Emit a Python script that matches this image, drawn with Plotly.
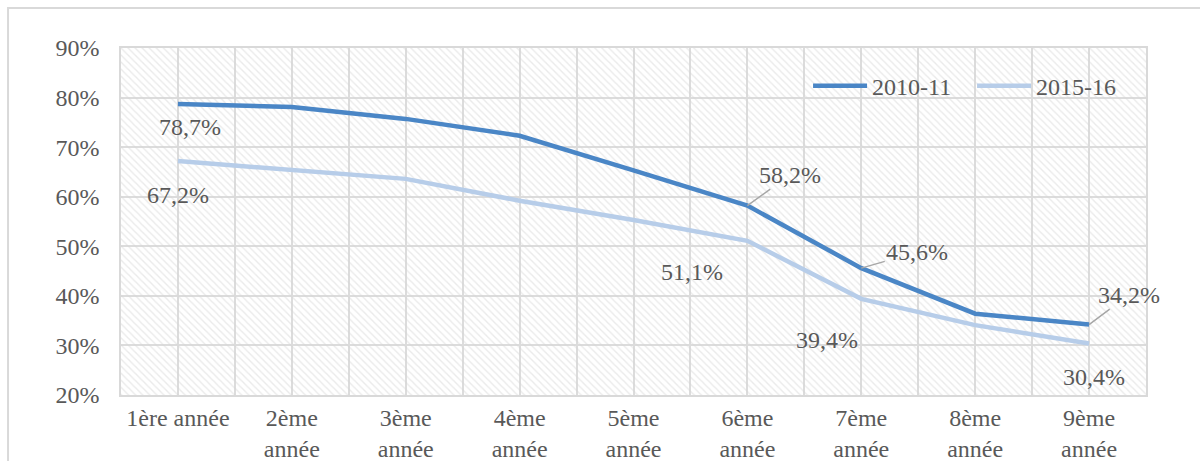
import plotly.graph_objects as go

# School years (categories) and tick labels
categories = ["1ère année", "2ème année", "3ème année", "4ème année", "5ème année",
              "6ème année", "7ème année", "8ème année", "9ème année"]
tick_labels = ["1ère année", "2ème<br>année", "3ème<br>année", "4ème<br>année", "5ème<br>année",
               "6ème<br>année", "7ème<br>année", "8ème<br>année", "9ème<br>année"]

# Rates (%) per cohort
rate_2010_11 = [78.7, 78.1, 75.7, 72.3, 65.3, 58.2, 45.6, 36.4, 34.2]
rate_2015_16 = [67.2, 65.4, 63.6, 59.2, 55.3, 51.1, 39.4, 34.1, 30.4]

y_ticks = [20, 30, 40, 50, 60, 70, 80, 90]
y_tick_labels = [f"{v}%" for v in y_ticks]

FONT = "'Liberation Serif', 'Times New Roman', 'DejaVu Serif', serif"
FS = 24
TXT = "#595959"
GRID = "#dcdcdc"

idx = list(range(len(categories)))
x_lo, x_hi = idx[0] - 0.5, idx[-1] + 0.5
y_lo, y_hi = y_ticks[0], y_ticks[-1]

fig = go.Figure()

# Hatched plot-area background
fig.add_trace(go.Scatter(
    x=[x_lo, x_hi, x_hi, x_lo, x_lo], y=[y_lo, y_lo, y_hi, y_hi, y_lo],
    mode="none", fill="toself", fillcolor="rgba(0,0,0,0)",
    fillpattern=dict(shape="\\", size=5, solidity=0.28,
                     fgcolor="#d6d6d6", bgcolor="rgba(0,0,0,0)"),
    showlegend=False, hoverinfo="skip"))

fig.add_trace(go.Scatter(x=idx, y=rate_2010_11, mode="lines", name="2010-11",
                         line=dict(color="#4a86c6", width=4.5)))
fig.add_trace(go.Scatter(x=idx, y=rate_2015_16, mode="lines", name="2015-16",
                         line=dict(color="#b7cde9", width=4.5)))


def fmt(v):
    return f"{v:.1f}".replace(".", ",") + "%"


# Data labels: (series, index, x offset px, y offset px, leader line)
labels = [
    (rate_2010_11, 0, 12, 23, False),
    (rate_2015_16, 0, 0, 34, False),
    (rate_2010_11, 5, 43, -31, True),
    (rate_2010_11, 6, 56, -16, True),
    (rate_2010_11, 8, 40, -30, True),
    (rate_2015_16, 5, -55, 31, False),
    (rate_2015_16, 6, -34, 41, False),
    (rate_2015_16, 8, 5, 34, False),
]
for series, i, dx, dy, leader in labels:
    if leader:
        fig.add_annotation(x=idx[i], y=series[i], text=fmt(series[i]),
                           showarrow=True, arrowhead=0, arrowwidth=1.5,
                           arrowcolor="#a6a6a6", ax=dx, ay=dy, standoff=0,
                           font=dict(family=FONT, size=FS, color=TXT))
    else:
        fig.add_annotation(x=idx[i], y=series[i], text=fmt(series[i]),
                           showarrow=False, xshift=dx, yshift=-dy,
                           font=dict(family=FONT, size=FS, color=TXT))

# Outer chart frame
fig.add_shape(type="rect", xref="paper", yref="paper",
              x0=-0.1102, x1=1.07, y0=-0.25, y1=1.1153,
              line=dict(color="#d9d9d9", width=2), fillcolor="rgba(0,0,0,0)",
              layer="below")

fig.update_layout(
    width=1200, height=461,
    margin=dict(l=121, r=54, t=48, b=66, autoexpand=False),
    paper_bgcolor="white", plot_bgcolor="white",
    font=dict(family=FONT, size=FS, color=TXT),
    showlegend=True,
    legend=dict(orientation="h", x=0.6703, y=0.89, xanchor="left", yanchor="middle",
                bgcolor="rgba(0,0,0,0)", font=dict(family=FONT, size=FS, color=TXT),
                itemwidth=54, entrywidth=95, entrywidthmode="pixels"),
)

fig.update_xaxes(
    range=[x_lo, x_hi], tickvals=idx, ticktext=tick_labels,
    tickfont=dict(family=FONT, size=FS, color=TXT),
    showgrid=True, gridcolor=GRID, gridwidth=1.5,
    minor=dict(tickvals=[i - 0.5 for i in idx] + [x_hi], showgrid=True,
               gridcolor=GRID, gridwidth=1.5, ticks=""),
    showline=True, linecolor="#d9d9d9", linewidth=2, mirror=True,
    ticks="", ticklabelstandoff=0, automargin=False,
    zeroline=False, fixedrange=True)

fig.update_yaxes(
    range=[y_lo, y_hi], tickvals=y_ticks, ticktext=y_tick_labels,
    tickfont=dict(family=FONT, size=FS, color=TXT),
    showgrid=True, gridcolor=GRID, gridwidth=1.5,
    showline=True, linecolor="#d9d9d9", linewidth=1.5, mirror=True,
    ticks="", ticklabelstandoff=15, automargin=False,
    zeroline=False, fixedrange=True)

fig.write_html("out.html")
